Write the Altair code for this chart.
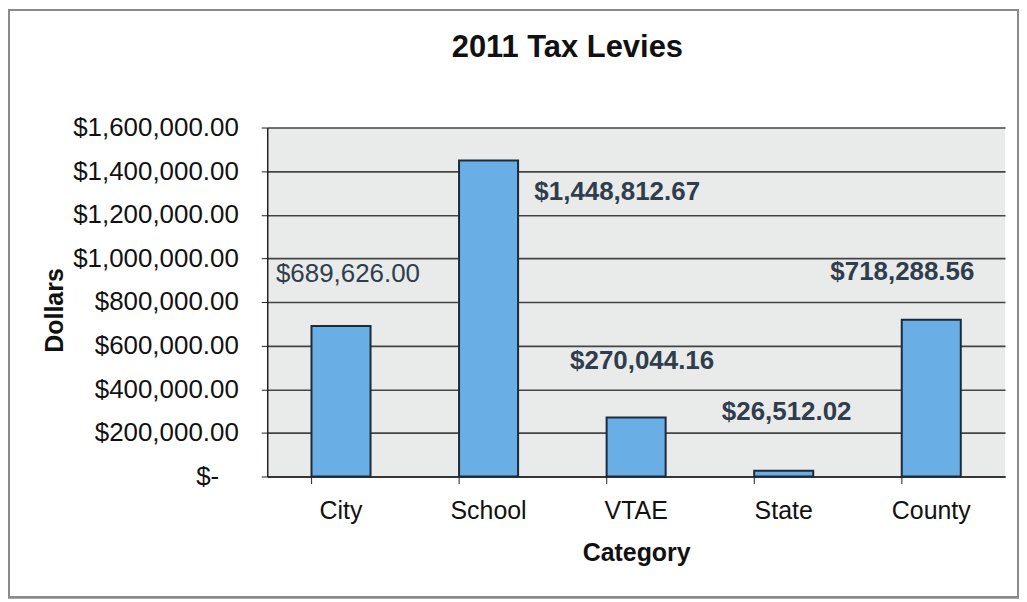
import altair as alt
import pandas as pd

categories = ["City", "School", "VTAE", "State", "County"]
values = [689626.00, 1448812.67, 270044.16, 26512.02, 718288.56]
label_texts = ["$689,626.00", "$1,448,812.67", "$270,044.16", "$26,512.02", "$718,288.56"]
chart_title = "2011 Tax Levies"

df = pd.DataFrame({"Category": categories, "Dollars": values, "label": label_texts})

FONT = "Liberation Sans"
W, H = 740, 350
PAD_L, PAD_T = 260, 119

x_enc = alt.X(
    "Category:N",
    sort=categories,
    scale=alt.Scale(paddingInner=0.6, paddingOuter=0.3),
    axis=alt.Axis(
        title="Category",
        labelAngle=0,
        labelFontSize=25,
        labelFont=FONT,
        labelColor="#111",
        labelPadding=15,
        tickSize=7,
        tickColor="#222",
        bandPosition=0,
        domainColor="#222",
        domainWidth=1.5,
        titleFontSize=25,
        titleFont=FONT,
        titleFontWeight="bold",
        titleColor="#111",
        titlePadding=17,
        grid=False,
    ),
)

y_enc = alt.Y(
    "Dollars:Q",
    scale=alt.Scale(domain=[0, 1600000]),
    axis=alt.Axis(
        title="Dollars",
        values=[0, 200000, 400000, 600000, 800000, 1000000, 1200000, 1400000, 1600000],
        labelExpr="datum.value == 0 ? '$-\u2007\u2009\u200b' : format(datum.value, '$,.2f')",
        labelFontSize=26,
        labelFont=FONT,
        labelColor="#111",
        labelPadding=23,
        tickSize=6,
        tickColor="#222",
        domainColor="#222",
        domainWidth=1.5,
        gridColor="#444",
        gridWidth=1.6,
        titleFontSize=25,
        titleFont=FONT,
        titleFontWeight="bold",
        titleColor="#111",
        titleX=-200,
        titleY=183,
    ),
)

bars = alt.Chart(df).mark_bar(
    color="#6aaee6", stroke="#1c2a3a", strokeWidth=2
).encode(x=x_enc, y=y_enc)

offsets = {
    "City": (7, -52, "normal"),
    "School": (129, 32, "bold"),
    "VTAE": (6, -57, "bold"),
    "State": (3, -59, "bold"),
    "County": (-29, -48, "bold"),
}

label_layers = []
for cat in categories:
    dx, dy, weight = offsets[cat]
    label_layers.append(
        alt.Chart(df)
        .transform_filter(alt.datum.Category == cat)
        .mark_text(
            dx=dx, dy=dy, fontSize=26, font=FONT, fontWeight=weight,
            color="#2f3d4c", baseline="middle", align="center",
        )
        .encode(x=alt.X("Category:N", sort=categories), y="Dollars:Q", text="label:N")
    )

title_mark = alt.Chart(pd.DataFrame({"t": [chart_title]})).mark_text(
    fontSize=31, font=FONT, fontWeight="bold", color="#111",
    align="center", baseline="middle",
).encode(x=alt.value(301), y=alt.value(-80), text="t:N")

frame = alt.Chart(df).mark_rect(
    fill="transparent", stroke="#8a8a8a", strokeWidth=2
).encode(
    x=alt.value(-259), x2=alt.value(753), y=alt.value(-118), y2=alt.value(471)
)

chart = (
    alt.layer(bars, *label_layers, title_mark, frame)
    .properties(
        width=W,
        height=H,
        autosize=alt.AutoSizeParams(type="none"),
        padding={"left": PAD_L, "top": PAD_T, "right": 14, "bottom": 124},
        background="white",
    )
    .configure_view(fill="#e9ebea", stroke=None)
)

chart.save("out.html", embed_options={"renderer": "svg", "actions": False})
